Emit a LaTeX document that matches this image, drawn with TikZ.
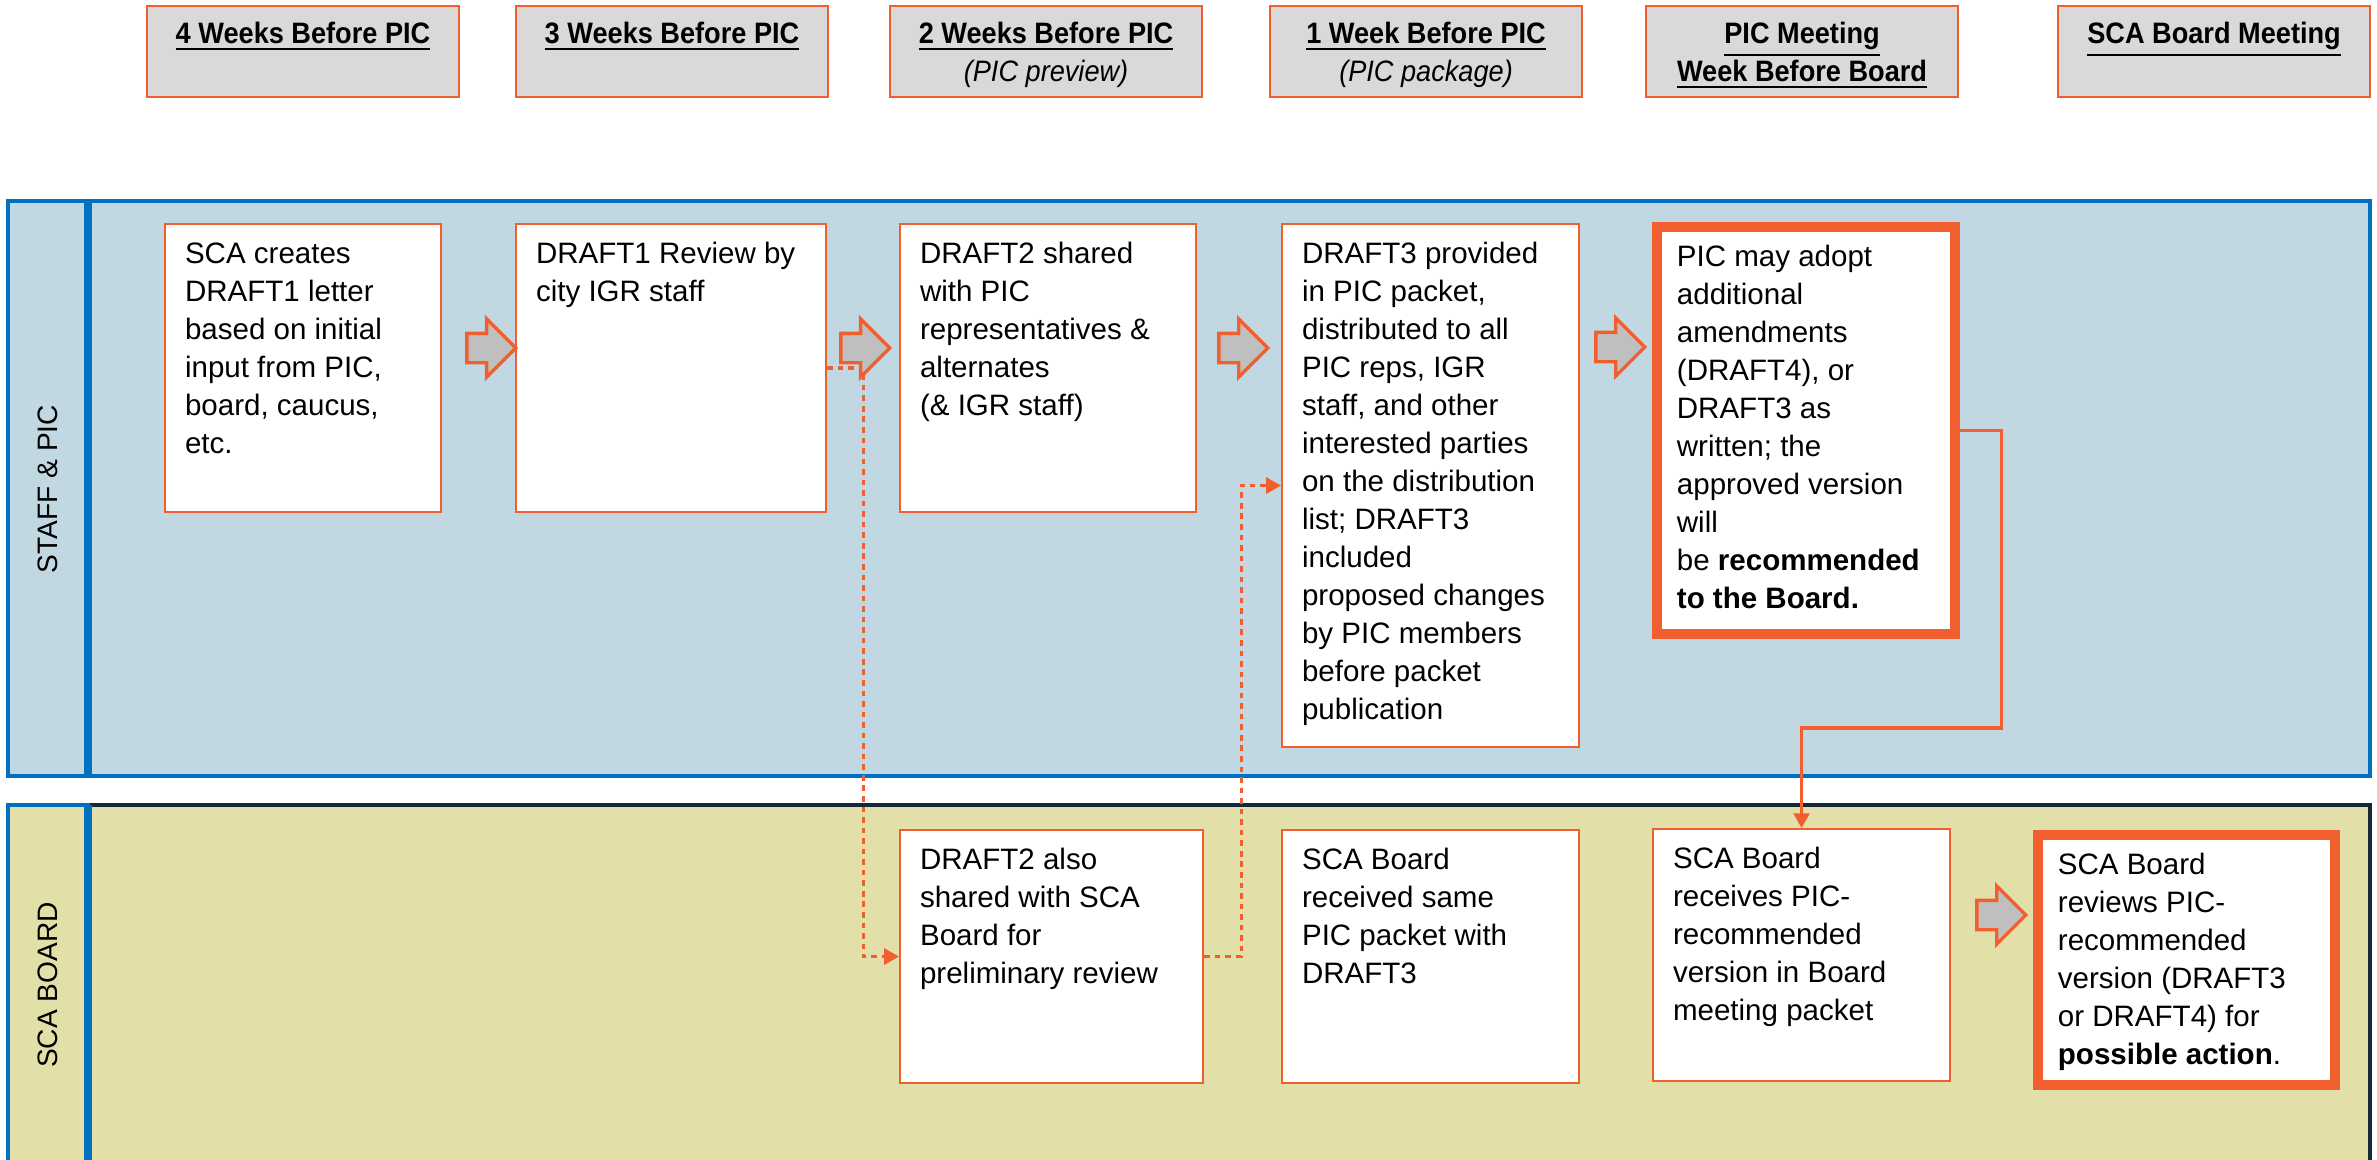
\documentclass[tikz,border=0pt]{standalone}
\usepackage{fontspec}
\setmainfont{Liberation Sans}
\newfontfamily\headfont[FakeStretch=0.92]{Liberation Sans}
\usetikzlibrary{arrows.meta, positioning, shapes.arrows}

\definecolor{pumpkin}{RGB}{240,95,45}
\definecolor{staffblue}{RGB}{193,216,226}
\definecolor{boardkhaki}{RGB}{226,224,168}
\definecolor{laneblue}{RGB}{0,112,192}
\definecolor{lanenavy}{RGB}{20,40,55}
\definecolor{headgray}{RGB}{217,217,217}
\definecolor{arrowgray}{RGB}{191,191,191}

\tikzset{
  weekbox/.style={draw=pumpkin, fill=headgray, line width=0.6pt, anchor=north west,
    inner xsep=0.11cm, inner ysep=0.11cm, font=\headfont\fontsize{8.4}{10.8}\selectfont},
  stepbox/.style={draw=pumpkin, fill=white, line width=0.6pt, anchor=north west,
    inner xsep=0.2cm, inner ysep=0.13cm, font=\fontsize{8.4}{10.8}\selectfont},
  keybox/.style={stepbox, line width=2.8pt},
  lanelabel/.style={rotate=90, font=\fontsize{8}{10}\selectfont},
  laneedge/.style={draw=laneblue, line width=1.1pt},
  lanedivider/.style={draw=laneblue, line width=2.4pt},
  push/.style={single arrow, draw=pumpkin, fill=arrowgray, line width=0.95pt,
    minimum height=0.49cm, inner xsep=0pt, inner ysep=0.13cm, single arrow head extend=0.145cm},
  handoff/.style={draw=pumpkin, line width=0.9pt, -{Triangle[length=4.2pt,width=4.5pt]}},
  preview/.style={handoff, dash pattern=on 1.6pt off 1.4pt}
}

\begin{document}
\begin{tikzpicture}
    \useasboundingbox (0,0) rectangle (23.77,-11.59);

    % Staff & PIC lane
    \draw[laneedge, fill=staffblue] (0.88,-2.01) rectangle (23.70,-7.76);
    \draw[laneedge, fill=staffblue] (0.08,-2.01) rectangle (0.88,-7.76);
    \draw[lanedivider] (0.88,-2.01) -- (0.88,-7.76);
    \node[lanelabel] (staffLabel) at (0.48,-4.89) {STAFF \& PIC};

    % SCA Board lane
    \draw[draw=lanenavy, line width=1.1pt, fill=boardkhaki] (0.88,-8.05) rectangle (23.70,-11.70);
    \draw[laneedge, fill=boardkhaki] (0.08,-8.05) rectangle (0.88,-11.70);
    \draw[lanedivider] (0.88,-8.05) -- (0.88,-11.70);
    \node[lanelabel] (boardLabel) at (0.48,-9.85) {SCA BOARD};

    % Week headers
    \node[weekbox] (week4) at (1.46,-0.05) {\parbox[t][0.69cm][t]{2.90cm}{\centering\strut\textbf{\underline{4 Weeks Before PIC}}}};
    \node[weekbox] (week3) at (5.15,-0.05) {\parbox[t][0.69cm][t]{2.90cm}{\centering\strut\textbf{\underline{3 Weeks Before PIC}}}};
    \node[weekbox] (week2) at (8.89,-0.05) {\parbox[t][0.69cm][t]{2.90cm}{\centering\strut\textbf{\underline{2 Weeks Before PIC}}\\\textit{(PIC preview)}}};
    \node[weekbox] (week1) at (12.69,-0.05) {\parbox[t][0.69cm][t]{2.90cm}{\centering\strut\textbf{\underline{1 Week Before PIC}}\\\textit{(PIC package)}}};
    \node[weekbox] (weekPIC) at (16.45,-0.05) {\parbox[t][0.69cm][t]{2.90cm}{\centering\strut\textbf{\underline{PIC Meeting}}\\\textbf{\underline{Week Before Board}}}};
    \node[weekbox] (weekBoard) at (20.57,-0.05) {\parbox[t][0.69cm][t]{2.90cm}{\centering\strut\textbf{\underline{SCA Board Meeting}}}};

    % Staff & PIC steps
    \node[stepbox] (create) at (1.64,-2.23) {\parbox[t][2.62cm][t]{2.36cm}{\strut SCA creates\\DRAFT1 letter\\based on initial\\input from PIC,\\board, caucus,\\etc.}};
    \node[stepbox] (review) at (5.15,-2.23) {\parbox[t][2.62cm][t]{2.70cm}{\strut DRAFT1 Review by\\city IGR staff}};
    \node[stepbox] (share) at (8.99,-2.23) {\parbox[t][2.62cm][t]{2.56cm}{\strut DRAFT2 shared\\with PIC\\representatives \&\\alternates\\(\& IGR staff)}};
    \node[stepbox] (packet) at (12.81,-2.23) {\parbox[t][4.97cm][t]{2.57cm}{\strut DRAFT3 provided\\in PIC packet,\\distributed to all\\PIC reps, IGR\\staff, and other\\interested parties\\on the distribution\\list; DRAFT3\\included\\proposed changes\\by PIC members\\before packet\\publication}};
    \node[keybox] (adopt) at (16.52,-2.22) {\parbox[t][3.81cm][t]{2.58cm}{\strut PIC may adopt\\additional\\amendments\\(DRAFT4), or\\DRAFT3 as\\written; the\\approved version\\will\\be \textbf{recommended}\\\textbf{to the Board.}}};

    % SCA Board steps
    \node[stepbox] (preview) at (8.99,-8.29) {\parbox[t][2.27cm][t]{2.63cm}{\strut DRAFT2 also\\shared with SCA\\Board for\\preliminary review}};
    \node[stepbox] (sameboard) at (12.81,-8.29) {\parbox[t][2.27cm][t]{2.57cm}{\strut SCA Board\\received same\\PIC packet with\\DRAFT3}};
    \node[stepbox] (receive) at (16.52,-8.28) {\parbox[t][2.26cm][t]{2.57cm}{\strut SCA Board\\receives PIC-\\recommended\\version in Board\\meeting packet}};
    \node[keybox] (action) at (20.33,-8.30) {\parbox[t][2.24cm][t]{2.57cm}{\strut SCA Board\\reviews PIC-\\recommended\\version (DRAFT3\\or DRAFT4) for\\\textbf{possible action}.}};

    % Connectors
    \draw[preview] (review.east) -- ++(0.36,0) |- (preview.west);
    \draw[preview] (preview.east) -- ++(0.37,0) |- (packet.west);
    \draw[handoff] (adopt.east) -- ++(0.42,0) |- ([yshift=1cm]receive.north) -- (receive.north);

    % Block arrows
    \node[push] (pushCreate) at (4.84,-3.48) {};
    \node[push] (pushReview) at (8.58,-3.48) {};
    \node[push] (pushShare) at (12.36,-3.48) {};
    \node[push] (pushPacket) at (16.13,-3.47) {};
    \node[push] (pushReceive) at (19.94,-9.15) {};
\end{tikzpicture}
\end{document}
